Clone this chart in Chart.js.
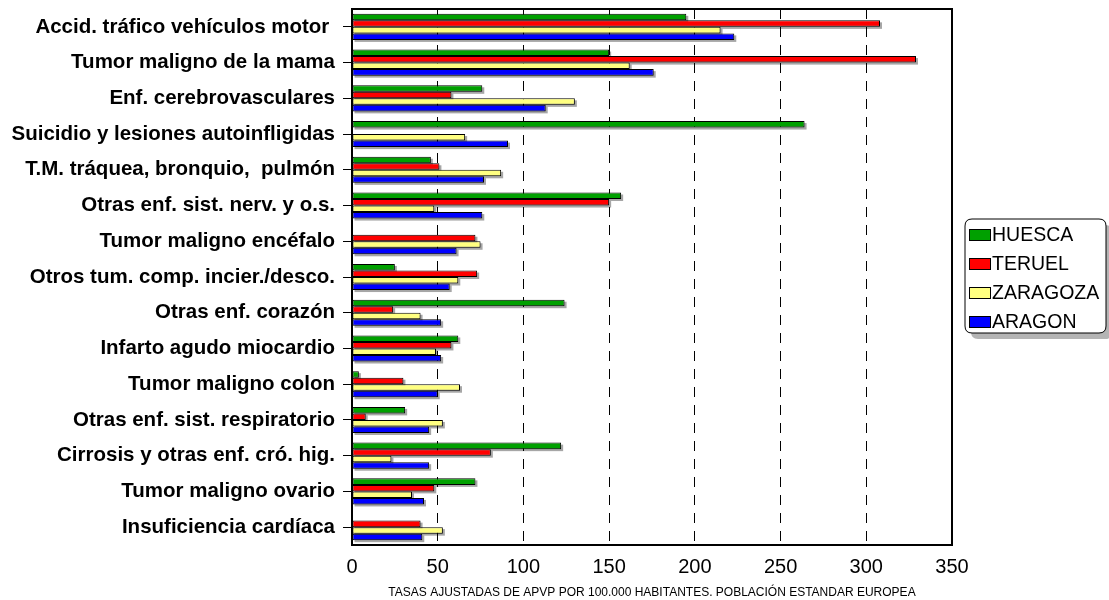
<!DOCTYPE html>
<html>
<head>
<meta charset="utf-8">
<script src="https://cdn.jsdelivr.net/npm/chart.js@4/dist/chart.umd.min.js"></script>
<style>
  body { margin: 0; background: #fff; }
</style>
</head>
<body>
<canvas id="apvp" width="1109" height="600"></canvas>
<script>
// causas de muerte, ordenadas como en el informe
var causas = [
  "Accid. tráfico vehículos motor ",
  "Tumor maligno de la mama",
  "Enf. cerebrovasculares",
  "Suicidio y lesiones autoinfligidas",
  "T.M. tráquea, bronquio,  pulmón",
  "Otras enf. sist. nerv. y o.s.",
  "Tumor maligno encéfalo",
  "Otros tum. comp. incier./desco.",
  "Otras enf. corazón",
  "Infarto agudo miocardio",
  "Tumor maligno colon",
  "Otras enf. sist. respiratorio",
  "Cirrosis y otras enf. cró. hig.",
  "Tumor maligno ovario",
  "Insuficiencia cardíaca"
];

// tasas por provincia (null = sin casos)
var huesca   = [195, 150, 76, 264, 46, 157, null, 25, 124, 62, 4, 31, 122, 72, null];
var teruel   = [308, 329, 58, null, 51, 150, 72, 73, 24, 58, 30, 8, 81, 48, 40];
var zaragoza = [215, 162, 130, 66, 87, 48, 75, 62, 40, 49, 63, 53, 23, 35, 53];
var aragon   = [223, 176, 113, 91, 77, 76, 61, 57, 52, 52, 50, 45, 45, 42, 41];

var provincias = ["HUESCA", "TERUEL", "ZARAGOZA", "ARAGON"];
var colores = ["#00a000", "#ff0000", "#ffff80", "#0000ff"];

var ejeX = { min: 0, max: 350, paso: 50 };
var pie = "TASAS AJUSTADAS DE APVP POR 100.000 HABITANTES. POBLACIÓN ESTANDAR EUROPEA";

var fuente = 'Arial, "Liberation Sans", sans-serif';

// sombra gris bajo cada barra
var sombraBarras = {
  id: 'sombraBarras',
  beforeDatasetsDraw: function(chart) {
    var ctx = chart.ctx;
    ctx.save();
    ctx.fillStyle = 'rgba(0,0,0,0.35)';
    chart.data.datasets.forEach(function(ds, i) {
      var meta = chart.getDatasetMeta(i);
      meta.data.forEach(function(bar, j) {
        if (ds.data[j] == null) return;
        var p = bar.getProps(['x', 'y', 'base', 'height'], true);
        var left = Math.min(p.base, p.x);
        var w = Math.abs(p.x - p.base);
        ctx.fillRect(left + 2, p.y - p.height / 2 + 2, w, p.height);
      });
    });
    ctx.restore();
  }
};

// marco del área de gráfico
var marco = {
  id: 'marco',
  afterDatasetsDraw: function(chart) {
    var a = chart.chartArea, ctx = chart.ctx;
    ctx.save();
    ctx.strokeStyle = '#000';
    ctx.lineWidth = 2;
    ctx.strokeRect(a.left, a.top, a.right - a.left, a.bottom - a.top);
    ctx.restore();
  }
};

function cajaRedonda(ctx, x, y, w, h, r) {
  ctx.beginPath();
  ctx.moveTo(x + r, y);
  ctx.lineTo(x + w - r, y);
  ctx.quadraticCurveTo(x + w, y, x + w, y + r);
  ctx.lineTo(x + w, y + h - r);
  ctx.quadraticCurveTo(x + w, y + h, x + w - r, y + h);
  ctx.lineTo(x + r, y + h);
  ctx.quadraticCurveTo(x, y + h, x, y + h - r);
  ctx.lineTo(x, y + r);
  ctx.quadraticCurveTo(x, y, x + r, y);
  ctx.closePath();
}

// leyenda a la derecha, con borde redondeado y sombra
var leyenda = {
  id: 'leyenda',
  afterDraw: function(chart) {
    var ctx = chart.ctx;
    var x = 965, y = 219, w = 141, h = 114;
    ctx.save();
    cajaRedonda(ctx, x + 6, y + 6, w, h, 7);
    ctx.fillStyle = '#b4b4b4';
    ctx.fill();
    cajaRedonda(ctx, x, y, w, h, 7);
    ctx.fillStyle = '#fff';
    ctx.fill();
    ctx.strokeStyle = '#000';
    ctx.lineWidth = 1;
    ctx.stroke();
    ctx.font = '19.5px ' + fuente;
    ctx.textBaseline = 'middle';
    chart.data.datasets.forEach(function(ds, i) {
      var cy = y + 16 + i * 29;
      ctx.fillStyle = ds.backgroundColor;
      ctx.fillRect(x + 4.5, cy - 5.5, 21, 11);
      ctx.strokeStyle = '#000';
      ctx.strokeRect(x + 4.5, cy - 5.5, 21, 11);
      ctx.fillStyle = '#000';
      ctx.fillText(ds.label, x + 27, cy + 1);
    });
    ctx.restore();
  }
};

var series = [huesca, teruel, zaragoza, aragon];

new Chart(document.getElementById('apvp'), {
  type: 'bar',
  data: {
    labels: causas,
    datasets: series.map(function(valores, i) {
      return {
        label: provincias[i],
        data: valores,
        backgroundColor: colores[i],
        borderColor: '#000',
        borderWidth: 1,
        borderSkipped: false,
        categoryPercentage: 0.73,
        barPercentage: 1
      };
    })
  },
  options: {
    indexAxis: 'y',
    responsive: false,
    devicePixelRatio: 1,
    animation: false,
    layout: { padding: { left: 0, right: 157, top: 9, bottom: 0 } },
    plugins: {
      legend: { display: false },
      tooltip: { enabled: false }
    },
    scales: {
      x: {
        min: ejeX.min,
        max: ejeX.max,
        ticks: {
          stepSize: ejeX.paso,
          color: '#000',
          padding: 10,
          font: { family: fuente, size: 20 }
        },
        grid: { color: '#000', lineWidth: 1, drawTicks: false },
        border: { display: true, color: '#000', width: 2, dash: [10, 8] },
        title: {
          display: true,
          text: pie,
          color: '#000',
          padding: { top: 0, bottom: 0 },
          font: { family: fuente, size: 12 }
        },
        afterFit: function(scale) { scale.height = 55; }
      },
      y: {
        ticks: {
          color: '#000',
          padding: 8,
          font: { family: fuente, size: 20.5, weight: 'bold' }
        },
        grid: { drawOnChartArea: false, offset: false, color: '#000', tickLength: 9 },
        border: { display: true, color: '#000', width: 2 },
        afterFit: function(scale) {
          scale.width = 352;
          scale.paddingTop = 0;
          scale.paddingBottom = 0;
        }
      }
    }
  },
  plugins: [sombraBarras, marco, leyenda]
});
</script>
</body>
</html>
